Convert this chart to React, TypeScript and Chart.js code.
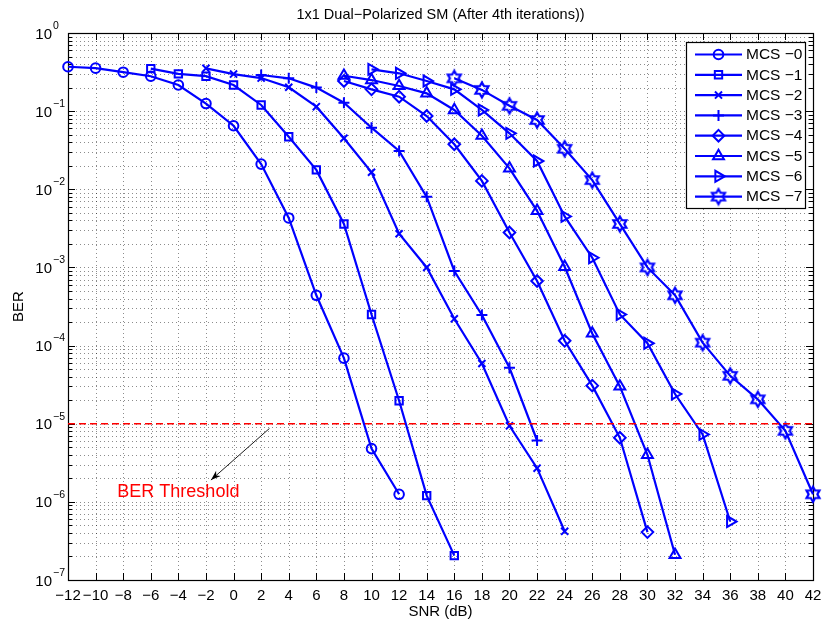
import React, { useEffect, useRef } from "react";
import { Chart, registerables } from "chart.js";

Chart.register(...registerables);

const FONT = "'Liberation Sans', Arial, Helvetica, sans-serif";
const BLUE = "#0000ff";
const RED = "#ff0000";

const chartTitle = "1x1 Dual\u2212Polarized SM (After 4th iterations))";
const xAxisTitle = "SNR (dB)";
const yAxisTitle = "BER";
const thresholdLabel = "BER Threshold";
const seriesNames = [
  "MCS \u22120",
  "MCS \u22121",
  "MCS \u22122",
  "MCS \u22123",
  "MCS \u22124",
  "MCS \u22125",
  "MCS \u22126",
  "MCS \u22127",
];

const snrMcs0 = [-12, -10, -8, -6, -4, -2, 0, 2, 4, 6, 8, 10, 12];
const berMcs0 = [0.37, 0.355, 0.315, 0.28, 0.216, 0.125, 0.065, 0.021, 0.0043, 4.4e-4, 6.9e-5, 4.8e-6, 1.25e-6];

const snrMcs1 = [-6, -4, -2, 0, 2, 4, 6, 8, 10, 12, 14, 16];
const berMcs1 = [0.35, 0.3, 0.28, 0.216, 0.12, 0.047, 0.0177, 0.0036, 2.5e-4, 1.97e-5, 1.2e-6, 2.05e-7];

const snrMcs2 = [-2, 0, 2, 4, 6, 8, 10, 12, 14, 16, 18, 20, 22, 24];
const berMcs2 = [0.353, 0.298, 0.265, 0.202, 0.114, 0.045, 0.0165, 0.0027, 1.0e-3, 2.2e-4, 5.9e-5, 9.4e-6, 2.7e-6, 4.2e-7];

const snrMcs3 = [2, 4, 6, 8, 10, 12, 14, 16, 18, 20, 22];
const berMcs3 = [0.29, 0.263, 0.2, 0.128, 0.0614, 0.031, 0.008, 9.0e-4, 2.46e-4, 5.2e-5, 6.1e-6];

const snrMcs4 = [8, 10, 12, 14, 16, 18, 20, 22, 24, 26, 28, 30];
const berMcs4 = [0.243, 0.19, 0.153, 0.0867, 0.0377, 0.0128, 0.0028, 6.7e-4, 1.15e-4, 3.07e-5, 6.6e-6, 4.1e-7];

const snrMcs5 = [8, 10, 12, 14, 16, 18, 20, 22, 24, 26, 28, 30, 32];
const berMcs5 = [0.284, 0.25, 0.21, 0.169, 0.1035, 0.0485, 0.0185, 0.0053, 1.02e-3, 1.43e-4, 3.0e-5, 4.0e-6, 2.1e-7];

const snrMcs6 = [10, 12, 14, 16, 18, 20, 22, 24, 26, 28, 30, 32, 34, 36];
const berMcs6 = [0.343, 0.305, 0.243, 0.19, 0.1035, 0.052, 0.023, 0.0045, 1.33e-3, 2.5e-4, 1.07e-4, 2.4e-5, 7.3e-6, 5.6e-7];

const snrMcs7 = [16, 18, 20, 22, 24, 26, 28, 30, 32, 34, 36, 38, 40, 42];
const berMcs7 = [0.263, 0.187, 0.117, 0.077, 0.033, 0.0131, 0.0036, 1.0e-3, 4.4e-4, 1.09e-4, 4.1e-5, 2.05e-5, 8.1e-6, 1.25e-6];

const snrSeries = [snrMcs0, snrMcs1, snrMcs2, snrMcs3, snrMcs4, snrMcs5, snrMcs6, snrMcs7];
const berSeries = [berMcs0, berMcs1, berMcs2, berMcs3, berMcs4, berMcs5, berMcs6, berMcs7];
const markerKinds = ["circle", "square", "x", "plus", "diamond", "triUp", "triRight", "hexagram"];

const thresholdBer = 1e-5;
const xMin = -12;
const xMax = 42;
const xStep = 2;
const yDecadeExps = [-7, -6, -5, -4, -3, -2, -1, 0];

// annotation anchor points in data coordinates
const arrowFrom = { x: 2.6, y: 8.7e-6 };
const arrowTo = { x: -1.64, y: 1.9e-6 };
const thresholdLabelAt = { x: -4.0, y: 1.35e-6 };

function drawHexPath(ctx: CanvasRenderingContext2D, cx: number, cy: number, R: number) {
  const r = R / Math.sqrt(3);
  ctx.beginPath();
  for (let i = 0; i < 12; i++) {
    const a = -Math.PI / 2 + (i * Math.PI) / 6;
    const rad = i % 2 === 0 ? R : r;
    const px = cx + Math.cos(a) * rad;
    const py = cy + Math.sin(a) * rad;
    if (i === 0) ctx.moveTo(px, py);
    else ctx.lineTo(px, py);
  }
  ctx.closePath();
}

function makeHexagram(): HTMLCanvasElement {
  const c = document.createElement("canvas");
  const s = 20;
  c.width = s;
  c.height = s;
  const ctx = c.getContext("2d")!;
  drawHexPath(ctx, s / 2, s / 2, 7.5);
  ctx.strokeStyle = BLUE;
  ctx.lineWidth = 2.2;
  ctx.lineJoin = "miter";
  ctx.stroke();
  return c;
}

function pointOpts(kind: string, hex: HTMLCanvasElement) {
  switch (kind) {
    case "circle":
      return { pointStyle: "circle", pointRadius: 4.8, pointRotation: 0 };
    case "square":
      return { pointStyle: "rect", pointRadius: 5.2, pointRotation: 0 };
    case "x":
      return { pointStyle: "crossRot", pointRadius: 5, pointRotation: 0 };
    case "plus":
      return { pointStyle: "cross", pointRadius: 5.5, pointRotation: 0 };
    case "diamond":
      return { pointStyle: "rectRot", pointRadius: 5.8, pointRotation: 0 };
    case "triUp":
      return { pointStyle: "triangle", pointRadius: 6.3, pointRotation: 0 };
    case "triRight":
      return { pointStyle: "triangle", pointRadius: 6.3, pointRotation: 90 };
    default:
      return { pointStyle: hex, pointRadius: 8, pointRotation: 0 };
  }
}

function drawLegendMarker(ctx: CanvasRenderingContext2D, kind: string, x: number, y: number, hex: HTMLCanvasElement) {
  ctx.save();
  ctx.strokeStyle = BLUE;
  ctx.lineWidth = 2;
  ctx.beginPath();
  if (kind === "circle") {
    ctx.arc(x, y, 4.8, 0, Math.PI * 2);
  } else if (kind === "square") {
    const h = 5.2 * Math.SQRT1_2;
    ctx.rect(x - h, y - h, 2 * h, 2 * h);
  } else if (kind === "x") {
    const h = 5 * Math.SQRT1_2;
    ctx.moveTo(x - h, y - h);
    ctx.lineTo(x + h, y + h);
    ctx.moveTo(x - h, y + h);
    ctx.lineTo(x + h, y - h);
  } else if (kind === "plus") {
    ctx.moveTo(x - 5.5, y);
    ctx.lineTo(x + 5.5, y);
    ctx.moveTo(x, y - 5.5);
    ctx.lineTo(x, y + 5.5);
  } else if (kind === "diamond") {
    ctx.moveTo(x, y - 5.8);
    ctx.lineTo(x + 5.8, y);
    ctx.lineTo(x, y + 5.8);
    ctx.lineTo(x - 5.8, y);
    ctx.closePath();
  } else if (kind === "triUp" || kind === "triRight") {
    const rot = kind === "triUp" ? 0 : Math.PI / 2;
    for (let i = 0; i < 3; i++) {
      const a = rot + (i * 2 * Math.PI) / 3;
      const px = x + Math.sin(a) * 6.3;
      const py = y - Math.cos(a) * 6.3;
      if (i === 0) ctx.moveTo(px, py);
      else ctx.lineTo(px, py);
    }
    ctx.closePath();
  } else {
    ctx.drawImage(hex, x - hex.width / 2, y - hex.height / 2);
  }
  ctx.stroke();
  ctx.restore();
}

function fmtX(v: number) {
  return v < 0 ? "\u2212" + Math.abs(v) : String(v);
}

function makePlugin(hex: HTMLCanvasElement) {
  return {
    id: "matlabDecor",
    beforeDatasetsDraw(chart: any) {
      const { ctx, chartArea } = chart;
      const xs = chart.scales.x;
      const ys = chart.scales.y;
      const { left, right, top, bottom } = chartArea;
      ctx.save();
      // dotted grid
      ctx.strokeStyle = "rgba(0,0,0,0.45)";
      ctx.lineWidth = 1;
      ctx.setLineDash([1, 3]);
      xs.ticks.forEach((t: any) => {
        const px = Math.round(xs.getPixelForValue(t.value)) + 0.5;
        if (px <= left + 1 || px >= right - 1) return;
        ctx.beginPath();
        ctx.moveTo(px, top);
        ctx.lineTo(px, bottom);
        ctx.stroke();
      });
      yDecadeExps.forEach((e) => {
        for (let m = 1; m <= 9; m++) {
          if (e === 0 && m > 1) break;
          const py = Math.round(ys.getPixelForValue(m * Math.pow(10, e))) + 0.5;
          if (py <= top + 1 || py >= bottom - 1) continue;
          ctx.beginPath();
          ctx.moveTo(left, py);
          ctx.lineTo(right, py);
          ctx.stroke();
        }
      });
      ctx.setLineDash([]);
      // ticks inside
      ctx.strokeStyle = "#000";
      xs.ticks.forEach((t: any) => {
        const px = Math.round(xs.getPixelForValue(t.value)) + 0.5;
        ctx.beginPath();
        ctx.moveTo(px, bottom);
        ctx.lineTo(px, bottom - 7);
        ctx.moveTo(px, top);
        ctx.lineTo(px, top + 7);
        ctx.stroke();
      });
      yDecadeExps.forEach((e) => {
        for (let m = 1; m <= 9; m++) {
          if (e === 0 && m > 1) break;
          const py = Math.round(ys.getPixelForValue(m * Math.pow(10, e))) + 0.5;
          const len = m === 1 ? 7 : 4;
          ctx.beginPath();
          ctx.moveTo(left, py);
          ctx.lineTo(left + len, py);
          ctx.moveTo(right, py);
          ctx.lineTo(right - len, py);
          ctx.stroke();
        }
      });
      // box
      ctx.lineWidth = 1.2;
      ctx.strokeRect(Math.round(left) + 0.5, Math.round(top) + 0.5, Math.round(right - left), Math.round(bottom - top));
      ctx.restore();
    },
    afterDraw(chart: any) {
      const { ctx, chartArea } = chart;
      const xs = chart.scales.x;
      const ys = chart.scales.y;
      const { left, right, top, bottom } = chartArea;
      const cx = (left + right) / 2;
      const cy = (top + bottom) / 2;
      ctx.save();
      ctx.fillStyle = "#000";
      // title
      ctx.font = `14.5px ${FONT}`;
      ctx.textAlign = "center";
      ctx.textBaseline = "middle";
      ctx.fillText(chartTitle, cx, 15);
      // x tick labels
      ctx.font = `15px ${FONT}`;
      xs.ticks.forEach((t: any) => {
        ctx.fillText(fmtX(t.value), xs.getPixelForValue(t.value), bottom + 16);
      });
      // x title
      ctx.fillText(xAxisTitle, cx, bottom + 32);
      // y title
      ctx.save();
      ctx.translate(left - 49, cy);
      ctx.rotate(-Math.PI / 2);
      ctx.fillText(yAxisTitle, 0, 0);
      ctx.restore();
      // y tick labels 10^e
      yDecadeExps.forEach((e) => {
        const py = ys.getPixelForValue(Math.pow(10, e));
        ctx.font = `15px ${FONT}`;
        ctx.textAlign = "right";
        ctx.fillText("10", left - 16, py + 1.5);
        ctx.font = `10.5px ${FONT}`;
        ctx.textAlign = "left";
        ctx.fillText(e === 0 ? "0" : "\u2212" + Math.abs(e), left - 15, py - 7);
      });
      // annotation arrow
      const ax1 = xs.getPixelForValue(arrowFrom.x);
      const ay1 = ys.getPixelForValue(arrowFrom.y);
      const ax2 = xs.getPixelForValue(arrowTo.x);
      const ay2 = ys.getPixelForValue(arrowTo.y);
      ctx.strokeStyle = "#000";
      ctx.lineWidth = 0.9;
      ctx.beginPath();
      ctx.moveTo(ax1, ay1);
      ctx.lineTo(ax2, ay2);
      ctx.stroke();
      const ang = Math.atan2(ay2 - ay1, ax2 - ax1);
      const hl = 10;
      const hw = 3.5;
      ctx.beginPath();
      ctx.moveTo(ax2, ay2);
      ctx.lineTo(ax2 - hl * Math.cos(ang) + hw * Math.sin(ang), ay2 - hl * Math.sin(ang) - hw * Math.cos(ang));
      ctx.lineTo(ax2 - hl * 0.7 * Math.cos(ang), ay2 - hl * 0.7 * Math.sin(ang));
      ctx.lineTo(ax2 - hl * Math.cos(ang) - hw * Math.sin(ang), ay2 - hl * Math.sin(ang) + hw * Math.cos(ang));
      ctx.closePath();
      ctx.fillStyle = "#000";
      ctx.fill();
      // threshold label
      ctx.fillStyle = RED;
      ctx.font = `18px ${FONT}`;
      ctx.textAlign = "center";
      ctx.fillText(thresholdLabel, xs.getPixelForValue(thresholdLabelAt.x), ys.getPixelForValue(thresholdLabelAt.y));
      // legend
      const lx0 = right - 127;
      const ly0 = top + 9;
      const lw = 119;
      const lh = 166;
      ctx.fillStyle = "#fff";
      ctx.fillRect(lx0, ly0, lw, lh);
      ctx.strokeStyle = "#000";
      ctx.lineWidth = 1.2;
      ctx.strokeRect(Math.round(lx0) + 0.5, Math.round(ly0) + 0.5, lw, lh);
      seriesNames.forEach((name, i) => {
        const y = ly0 + 12.5 + i * 20.3;
        ctx.strokeStyle = BLUE;
        ctx.lineWidth = 2.2;
        ctx.beginPath();
        ctx.moveTo(lx0 + 9, y);
        ctx.lineTo(lx0 + 56, y);
        ctx.stroke();
        drawLegendMarker(ctx, markerKinds[i], lx0 + 32.5, y, hex);
        ctx.fillStyle = "#000";
        ctx.font = `15.5px ${FONT}`;
        ctx.textAlign = "left";
        ctx.textBaseline = "middle";
        ctx.fillText(name, lx0 + 60, y + 0.5);
      });
      ctx.restore();
    },
  };
}

export default function App() {
  const canvasRef = useRef<HTMLCanvasElement | null>(null);

  useEffect(() => {
    document.body.style.margin = "0";
    const canvas = canvasRef.current;
    if (!canvas) return;
    const hex = makeHexagram();

    const datasets: any[] = [
      {
        label: "threshold",
        data: [
          { x: xMin, y: thresholdBer },
          { x: xMax, y: thresholdBer },
        ],
        borderColor: RED,
        borderWidth: 1.5,
        borderDash: [7, 4],
        pointRadius: 0,
        fill: false,
      },
    ];
    seriesNames.forEach((name, i) => {
      const po: any = pointOpts(markerKinds[i], hex);
      datasets.push({
        label: name,
        data: snrSeries[i].map((x, k) => ({ x, y: berSeries[i][k] })),
        borderColor: BLUE,
        borderWidth: 2.2,
        backgroundColor: "rgba(0,0,0,0)",
        pointBackgroundColor: "rgba(0,0,0,0)",
        pointBorderColor: BLUE,
        pointBorderWidth: 2,
        pointStyle: po.pointStyle,
        pointRadius: po.pointRadius,
        pointRotation: po.pointRotation,
        fill: false,
        tension: 0,
        clip: false,
      });
    });

    const chart = new Chart(canvas, {
      type: "line",
      data: { datasets },
      options: {
        animation: false,
        responsive: false,
        devicePixelRatio: 1,
        layout: { padding: { left: 68, right: 10, top: 33, bottom: 45 } },
        plugins: {
          legend: { display: false },
          tooltip: { enabled: false },
          title: { display: false },
        },
        scales: {
          x: {
            type: "linear",
            min: xMin,
            max: xMax,
            ticks: { display: false, stepSize: xStep },
            grid: { display: false, drawTicks: false },
            border: { display: false },
          },
          y: {
            type: "logarithmic",
            min: Math.pow(10, yDecadeExps[0]),
            max: Math.pow(10, yDecadeExps[yDecadeExps.length - 1]),
            ticks: { display: false },
            grid: { display: false, drawTicks: false },
            border: { display: false },
          },
        },
      } as any,
      plugins: [makePlugin(hex)],
    });
    return () => chart.destroy();
  }, []);

  return (
    <div style={{ width: 823, height: 625, background: "#fff" }}>
      <canvas ref={canvasRef} width={823} height={625} style={{ display: "block" }} />
    </div>
  );
}
